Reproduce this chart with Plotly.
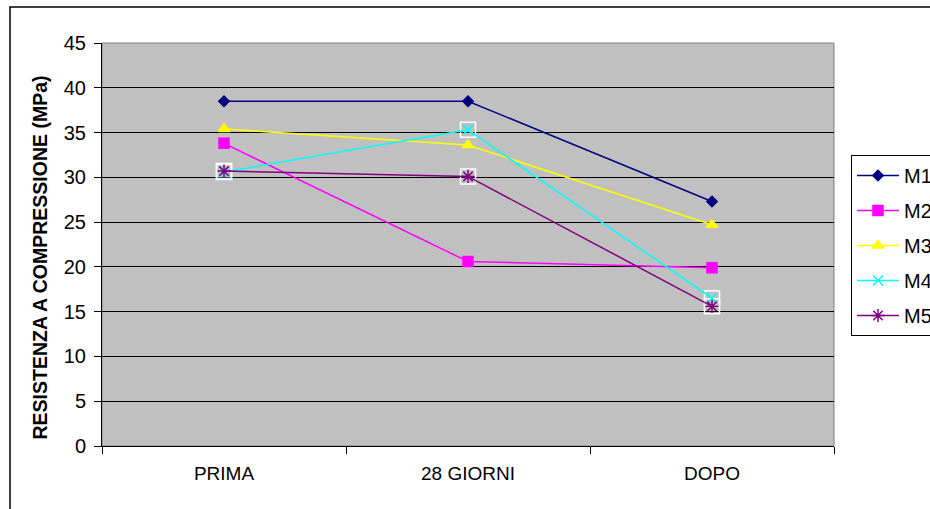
import plotly.graph_objects as go

categories = ["PRIMA", "28 GIORNI", "DOPO"]
m1 = [38.5, 38.5, 27.3]
m2 = [33.8, 20.6, 19.9]
m3 = [35.4, 33.6, 24.7]
m4 = [30.6, 35.3, 16.5]
m5 = [30.7, 30.1, 15.6]
series_names = ["M1", "M2", "M3", "M4", "M5"]
y_ticks = [0, 5, 10, 15, 20, 25, 30, 35, 40, 45]
y_title = "RESISTENZA A COMPRESSIONE (MPa)"

FONT = "Liberation Sans, Arial, sans-serif"

styles = {
    "M1": dict(color="#000080", symbol="diamond", size=8),
    "M2": dict(color="#FF00FF", symbol="square", size=10),
    "M3": dict(color="#FFFF00", symbol="triangle-up", size=10),
    "M4": dict(color="#00FFFF", symbol="x-thin-open", size=10),
    "M5": dict(color="#800080", symbol="asterisk-open", size=11),
}
data = {"M1": m1, "M2": m2, "M3": m3, "M4": m4, "M5": m5}

# plot area in page coords: x 102..834, y 43..446
L, T = 102, 43
PW, PH = 732, 403

fig = go.Figure()

# white marker frames behind M4 / M5 points
for name in ["M4", "M5"]:
    fig.add_trace(go.Scatter(
        x=categories, y=data[name], mode="markers", showlegend=False,
        hoverinfo="skip",
        marker=dict(symbol="square-open", size=15, color="white",
                    line=dict(color="white", width=1.5)),
    ))

for name in series_names:
    st = styles[name]
    fig.add_trace(go.Scatter(
        x=categories, y=data[name], name=name, mode="lines+markers",
        legendgroup=name,
        line=dict(color=st["color"], width=1.5),
        marker=dict(symbol=st["symbol"], size=st["size"], color=st["color"],
                    line=dict(color=st["color"], width=1.5)),
    ))

# outer chart border
fig.add_shape(type="rect", xref="paper", yref="paper",
              x0=(10 - L) / PW, x1=1.3, y0=-0.3, y1=(T + PH - 7) / PH,
              line=dict(color="black", width=1.5), fillcolor="rgba(0,0,0,0)",
              layer="above")
# plot area border (gray)
fig.add_shape(type="rect", xref="paper", yref="paper",
              x0=0, x1=1, y0=0, y1=1,
              line=dict(color="#808080", width=1), layer="below")

# y-axis title
fig.add_annotation(
    text="<b>" + y_title + "</b>", xref="paper", yref="paper",
    x=(39 - L) / PW, y=(T + PH - 257.5) / PH, textangle=-90,
    showarrow=False, xanchor="center", yanchor="middle",
    font=dict(family=FONT, size=19.5, color="black"),
)

fig.update_layout(
    width=930, height=509,
    margin=dict(l=L, r=930 - L - PW, t=T, b=509 - T - PH, autoexpand=False),
    paper_bgcolor="white",
    plot_bgcolor="#C0C0C0",
    font=dict(family=FONT, size=19, color="black"),
    legend=dict(
        x=(851 - L) / PW, xanchor="left",
        y=(T + PH - 155) / PH, yanchor="top",
        bgcolor="white", bordercolor="black", borderwidth=1,
        font=dict(family=FONT, size=20, color="black"),
        tracegroupgap=6, traceorder="grouped", itemwidth=42,
    ),
    xaxis=dict(
        type="category", categoryorder="array", categoryarray=categories,
        range=[-0.5, 2.5], tickson="boundaries", ticks="outside", ticklen=7,
        tickcolor="black", showline=True, linecolor="black", linewidth=1,
        showgrid=False, zeroline=False, ticklabelstandoff=10,
        tickfont=dict(family=FONT, size=19),
    ),
    yaxis=dict(
        range=[0, 45], tickvals=y_ticks, ticks="outside", ticklen=7,
        tickcolor="black", showline=True, linecolor="black", linewidth=1,
        showgrid=True, gridcolor="black", gridwidth=1, zeroline=False,
        ticklabelstandoff=4,
        tickfont=dict(family=FONT, size=20),
    ),
)

fig.write_html(
    "out.html",
    config={"displayModeBar": False},
    post_script="document.body.style.margin='0';document.body.style.overflow='hidden';",
)
